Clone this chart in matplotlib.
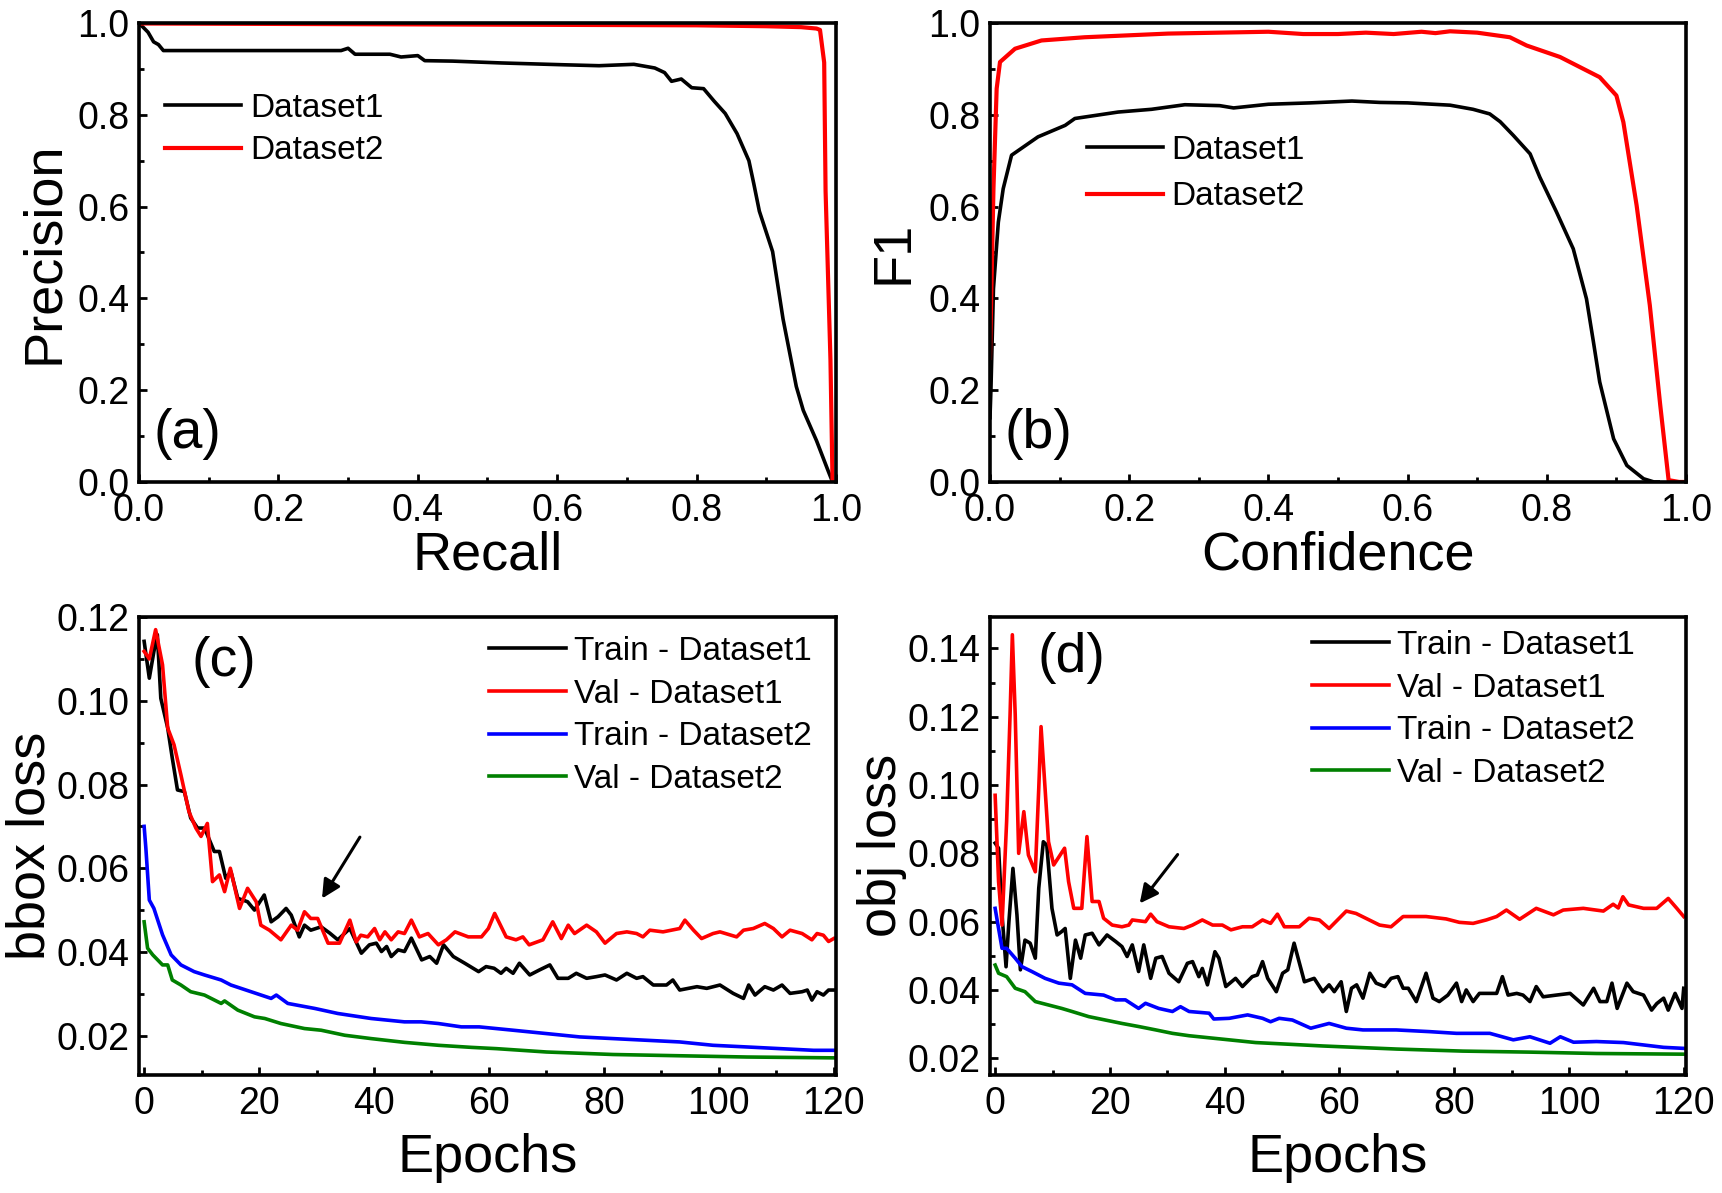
import matplotlib
matplotlib.use("Agg")
import matplotlib.pyplot as plt
from matplotlib.ticker import MultipleLocator

plt.rcParams['font.family'] = ['Liberation Sans', 'DejaVu Sans']

# ---- (a) precision / recall ----
pr_recall_1 = [0.0, 0.013, 0.021, 0.028, 0.035, 0.10, 0.20, 0.29, 0.30, 0.31, 0.36, 0.376, 0.40, 0.41,
               0.45, 0.52, 0.61, 0.66, 0.71, 0.74, 0.754, 0.764, 0.778, 0.793, 0.81, 0.825, 0.841, 0.858,
               0.875, 0.882, 0.89, 0.909, 0.924, 0.943, 0.953, 0.972, 0.989, 0.995]
pr_prec_1 = [1.0, 0.98, 0.959, 0.953, 0.94, 0.94, 0.94, 0.94, 0.945, 0.932, 0.932, 0.926, 0.929, 0.918,
             0.917, 0.913, 0.909, 0.907, 0.910, 0.902, 0.892, 0.873, 0.878, 0.859, 0.857, 0.83, 0.803, 0.759,
             0.70, 0.65, 0.59, 0.502, 0.355, 0.208, 0.156, 0.090, 0.023, 0.0]
pr_recall_2 = [0.0, 0.2, 0.4, 0.6, 0.8, 0.9, 0.95, 0.972, 0.977, 0.983, 0.985, 0.992, 0.995]
pr_prec_2 = [0.999, 0.998, 0.997, 0.996, 0.995, 0.993, 0.991, 0.988, 0.985, 0.914, 0.634, 0.266, 0.0]

# ---- (b) F1 / confidence ----
conf_1 = [0.0, 0.0014, 0.005, 0.012, 0.019, 0.031, 0.069, 0.108, 0.122, 0.184, 0.232, 0.28, 0.33, 0.35,
          0.40, 0.46, 0.52, 0.56, 0.60, 0.661, 0.694, 0.718, 0.733, 0.752, 0.776, 0.79, 0.814, 0.838,
          0.857, 0.867, 0.876, 0.896, 0.915, 0.939, 0.954, 0.96]
f1_1 = [0.14, 0.203, 0.421, 0.566, 0.639, 0.712, 0.752, 0.777, 0.792, 0.806, 0.812, 0.822, 0.820, 0.815,
        0.823, 0.826, 0.830, 0.827, 0.826, 0.821, 0.812, 0.802, 0.785, 0.755, 0.715, 0.664, 0.588, 0.508,
        0.399, 0.305, 0.218, 0.094, 0.036, 0.007, 0.0, 0.0]
conf_2 = [0.0, 0.005, 0.0096, 0.0144, 0.036, 0.074, 0.136, 0.256, 0.40, 0.45, 0.50, 0.54, 0.58, 0.62,
          0.64, 0.661, 0.70, 0.747, 0.771, 0.819, 0.876, 0.90, 0.91, 0.929, 0.948, 0.963, 0.975, 0.99, 1.0]
f1_2 = [0.27, 0.639, 0.857, 0.915, 0.944, 0.962, 0.969, 0.977, 0.981, 0.976, 0.976, 0.979, 0.976, 0.981,
        0.978, 0.982, 0.979, 0.969, 0.951, 0.926, 0.882, 0.842, 0.784, 0.603, 0.385, 0.167, 0.004, 0.0, 0.0]

# ---- (c) bbox loss ----
bbox_train1_ep = [0, 0.9, 1.7, 2.3, 2.9, 4.1, 4.9, 5.8, 7.0, 8.1, 9.3, 10.5, 12.2, 13.1, 14.2, 15.1, 16.3,
                  18.0, 19.2, 20.9, 22.1, 23.3, 24.7, 25.6, 27.0, 27.9, 29.0, 30.8, 32.3, 33.7, 35.8, 37.8,
                  39.2, 40.4, 41.3, 42.2, 43.0, 44.2, 45.3, 46.5, 48.3, 49.7, 50.9, 52.1, 53.8, 55.8, 58.2,
                  59.5, 60.9, 62.1, 63.0, 64.2, 65.3, 67.1, 68.8, 70.6, 72.0, 73.8, 75.2, 77.0, 78.7, 80.2,
                  82.2, 84.0, 85.7, 86.8, 88.6, 90.9, 92.0, 93.2, 96.2, 97.9, 100.2, 102.5, 104.3, 105.2,
                  106.3, 108.0, 109.5, 111.0, 112.4, 114.5, 115.4, 116.2, 117.1, 118.2, 119.1, 120.0]
bbox_train1 = [0.1142, 0.1054, 0.1118, 0.1158, 0.1006, 0.0935, 0.0863, 0.0787, 0.0783, 0.072, 0.0696,
               0.0696, 0.064, 0.064, 0.0576, 0.0592, 0.0528, 0.052, 0.050, 0.0536, 0.0472, 0.0484, 0.0504,
               0.0488, 0.0436, 0.0464, 0.0452, 0.046, 0.0445, 0.0429, 0.0456, 0.0397, 0.0417, 0.0421,
               0.0401, 0.0413, 0.0389, 0.0405, 0.0401, 0.0433, 0.0381, 0.0389, 0.0373, 0.0417, 0.0389,
               0.0373, 0.0353, 0.0365, 0.0361, 0.0349, 0.0361, 0.0349, 0.0373, 0.0345, 0.0357, 0.0369,
               0.0337, 0.0337, 0.0349, 0.0337, 0.0341, 0.0345, 0.0333, 0.0349, 0.0337, 0.0341, 0.0321,
               0.0321, 0.0333, 0.0309, 0.0317, 0.0313, 0.0321, 0.0301, 0.0289, 0.0321, 0.0297, 0.0317,
               0.0309, 0.0321, 0.0301, 0.0305, 0.0309, 0.0285, 0.0305, 0.0297, 0.0309, 0.0309]
bbox_val1_ep = [0, 0.9, 2.0, 3.2, 4.1, 5.2, 6.4, 7.8, 9.0, 9.9, 11.0, 11.9, 13.1, 14.0, 15.0, 16.6, 18.0,
                19.5, 20.3, 21.8, 23.8, 25.6, 26.7, 27.9, 29.0, 30.2, 32.0, 34.0, 35.8, 36.9, 37.7, 38.9,
                40.1, 41.0, 41.9, 43.0, 44.2, 45.3, 46.5, 47.9, 49.4, 51.2, 52.6, 54.1, 56.4, 58.7, 59.9,
                61.0, 63.0, 64.7, 65.9, 67.0, 69.4, 71.1, 72.6, 73.8, 74.9, 77.0, 78.7, 80.2, 82.2, 84.0,
                85.7, 86.8, 88.0, 90.3, 93.2, 94.1, 95.6, 97.0, 99.0, 100.2, 103.1, 104.3, 106.0, 108.0,
                109.5, 111.0, 112.4, 114.5, 116.2, 117.1, 118.2, 119.1, 120.0]
bbox_val1 = [0.1118, 0.110, 0.117, 0.1086, 0.0935, 0.0895, 0.0823, 0.0735, 0.0696, 0.0676, 0.0707,
             0.0568, 0.0584, 0.0544, 0.060, 0.0504, 0.0552, 0.052, 0.0464, 0.0452, 0.0429, 0.0464, 0.0452,
             0.0496, 0.048, 0.048, 0.0421, 0.0421, 0.0476, 0.0424, 0.044, 0.0436, 0.0456, 0.0429, 0.0448,
             0.0429, 0.0448, 0.0444, 0.0476, 0.0436, 0.0444, 0.0417, 0.0429, 0.0448, 0.0436, 0.0436,
             0.0456, 0.0492, 0.0436, 0.0429, 0.0436, 0.0417, 0.0429, 0.0472, 0.0432, 0.0464, 0.0444,
             0.0464, 0.0448, 0.0421, 0.0444, 0.0448, 0.0444, 0.0436, 0.0452, 0.0448, 0.0456, 0.0476,
             0.0452, 0.0432, 0.0444, 0.0448, 0.0436, 0.0452, 0.0456, 0.0468, 0.0456, 0.0436, 0.0452,
             0.0444, 0.0429, 0.0444, 0.044, 0.0425, 0.0432]
bbox_train2_ep = [0, 0.3, 0.9, 1.7, 3.2, 4.7, 6.4, 8.7, 10.5, 13.4, 15.1, 18.6, 22.1, 23.0, 25.0, 29.7,
                  33.7, 39.5, 45.3, 48.2, 51.2, 55.2, 58.3, 64.2, 70.0, 75.8, 81.6, 87.4, 93.2, 99.0, 104.9,
                  110.7, 116.5, 120.0]
bbox_train2 = [0.070, 0.0648, 0.0524, 0.0504, 0.0441, 0.0393, 0.0369, 0.0353, 0.0345, 0.0333, 0.0321,
               0.0305, 0.0289, 0.0297, 0.0277, 0.0265, 0.0253, 0.0241, 0.0233, 0.0233, 0.0229, 0.0221,
               0.0221, 0.0213, 0.0205, 0.0197, 0.0193, 0.0189, 0.0185, 0.0177, 0.0173, 0.0169, 0.0165, 0.0165]
bbox_val2_ep = [0, 0.6, 1.5, 3.2, 4.1, 4.9, 6.4, 8.1, 10.5, 13.4, 14.0, 16.3, 19.2, 21.0, 23.8, 27.9, 30.8,
                34.9, 39.5, 45.3, 51.2, 57.0, 61.3, 70.0, 81.6, 93.2, 104.9, 120.0]
bbox_val2 = [0.0472, 0.0409, 0.0393, 0.0369, 0.0369, 0.0333, 0.0321, 0.0305, 0.0297, 0.0277, 0.0283,
             0.0261, 0.0245, 0.0241, 0.0229, 0.0217, 0.0213, 0.0201, 0.0193, 0.0184, 0.0177, 0.0172,
             0.0169, 0.0161, 0.0155, 0.0152, 0.0149, 0.0147]

# ---- (d) obj loss ----
obj_train1_ep = [0.0, 0.6, 1.2, 1.9, 2.4, 3.1, 3.8, 4.4, 5.2, 6.1, 7.0, 7.6, 8.4, 9.0, 9.9, 10.8, 11.6,
                 12.2, 13.1, 14.0, 14.9, 15.7, 16.9, 18.1, 19.5, 21.0, 22.1, 23.0, 23.9, 25.0, 25.9, 27.1,
                 28.0, 29.1, 30.3, 32.0, 33.5, 34.4, 35.5, 36.1, 37.0, 38.3, 39.0, 40.2, 41.9, 43.1, 44.8,
                 45.7, 46.6, 47.5, 49.0, 50.1, 51.0, 52.1, 53.9, 55.6, 57.1, 58.2, 59.1, 60.3, 61.2, 62.1,
                 63.0, 64.1, 65.3, 66.4, 67.9, 69.0, 70.2, 71.1, 72.0, 73.4, 75.1, 76.3, 77.4, 78.9, 80.4,
                 81.3, 82.1, 83.3, 84.4, 86.2, 87.4, 88.4, 89.4, 90.9, 92.0, 93.2, 94.3, 95.5, 97.8, 100.2,
                 102.5, 104.3, 105.4, 106.6, 107.5, 108.4, 110.1, 111.2, 113.0, 114.4, 115.3, 116.5, 117.3,
                 118.5, 119.7, 120.0]
obj_train1 = [0.083, 0.0815, 0.062, 0.0468, 0.060, 0.0756, 0.062, 0.0459, 0.0546, 0.0537, 0.0493, 0.0698,
              0.0834, 0.0824, 0.0639, 0.0561, 0.0571, 0.058, 0.0434, 0.0546, 0.0493, 0.0561, 0.0566,
              0.0532, 0.0561, 0.0542, 0.0527, 0.0498, 0.0532, 0.0454, 0.0532, 0.0434, 0.0493, 0.0498,
              0.0449, 0.0424, 0.0478, 0.0483, 0.0439, 0.0463, 0.0415, 0.0512, 0.0493, 0.041, 0.0434,
              0.041, 0.0439, 0.0444, 0.0483, 0.0434, 0.0395, 0.0449, 0.0459, 0.0537, 0.0424, 0.0434,
              0.0395, 0.0415, 0.0395, 0.0424, 0.0337, 0.0405, 0.0415, 0.0376, 0.0449, 0.042, 0.041, 0.0434,
              0.0439, 0.0405, 0.0405, 0.0366, 0.0449, 0.0376, 0.0366, 0.0385, 0.042, 0.0366, 0.040, 0.0366,
              0.039, 0.039, 0.039, 0.0439, 0.0385, 0.039, 0.0385, 0.0366, 0.041, 0.038, 0.0385, 0.039,
              0.0356, 0.0405, 0.0366, 0.0366, 0.042, 0.0346, 0.042, 0.0395, 0.0385, 0.0341, 0.036, 0.0376,
              0.0341, 0.039, 0.0346, 0.0405]
obj_val1_ep = [0.0, 0.6, 1.2, 2.0, 2.6, 3.0, 3.5, 4.1, 5.0, 5.8, 7.0, 7.6, 8.0, 8.7, 9.3, 10.2, 12.1, 12.8,
               13.7, 15.1, 16.0, 16.9, 18.1, 18.9, 20.4, 22.1, 23.3, 23.9, 26.2, 27.1, 28.2, 30.3, 32.9,
               34.4, 36.1, 37.9, 39.6, 41.1, 43.1, 44.8, 46.6, 48.0, 49.2, 50.4, 53.0, 54.7, 56.5, 58.2,
               61.2, 62.9, 67.0, 69.0, 71.1, 75.1, 78.6, 80.9, 83.3, 85.6, 87.4, 89.1, 91.4, 94.3, 97.3,
               99.0, 102.5, 106.0, 107.7, 108.6, 109.4, 110.4, 113.0, 115.3, 117.3, 118.8, 120.0]
obj_val1 = [0.097, 0.0717, 0.059, 0.0893, 0.1205, 0.144, 0.1205, 0.080, 0.0922, 0.0795, 0.0746, 0.099,
            0.1171, 0.099, 0.0834, 0.0766, 0.0815, 0.0717, 0.0639, 0.0639, 0.0849, 0.0659, 0.0659, 0.061,
            0.059, 0.0585, 0.059, 0.0605, 0.060, 0.0622, 0.060, 0.0585, 0.058, 0.059, 0.0605, 0.059, 0.059,
            0.0576, 0.0585, 0.0585, 0.0605, 0.0595, 0.0622, 0.0585, 0.0585, 0.061, 0.0605, 0.058, 0.0631,
            0.0624, 0.059, 0.0585, 0.0615, 0.0615, 0.0608, 0.0598, 0.0595, 0.0605, 0.0615, 0.0634,
            0.0607, 0.0639, 0.062, 0.0634, 0.0639, 0.0631, 0.0651, 0.064, 0.0673, 0.0649, 0.0639,
            0.0639, 0.0668, 0.0639, 0.0615]
obj_train2_ep = [0.0, 0.6, 1.2, 2.0, 3.5, 4.7, 6.4, 8.7, 11.1, 13.4, 15.7, 18.9, 21.0, 22.7, 25.0, 26.2,
                 28.5, 30.9, 32.3, 33.8, 37.3, 38.1, 40.8, 44.0, 46.6, 48.0, 49.5, 51.8, 55.0, 58.2, 61.2,
                 64.1, 69.9, 75.7, 80.4, 86.2, 90.3, 93.2, 96.7, 98.5, 100.8, 104.8, 109.5, 116.5, 120.0]
obj_train2 = [0.0639, 0.058, 0.0522, 0.0522, 0.0493, 0.0468, 0.0454, 0.0434, 0.042, 0.0415, 0.039,
              0.0385, 0.0371, 0.0371, 0.0346, 0.0361, 0.0346, 0.0337, 0.0351, 0.0337, 0.0332, 0.0315,
              0.0317, 0.0327, 0.0317, 0.0307, 0.0317, 0.0312, 0.0288, 0.0302, 0.0288, 0.0283, 0.0283,
              0.0278, 0.0273, 0.0273, 0.0254, 0.0263, 0.0244, 0.0263, 0.0247, 0.0249, 0.0246, 0.0232, 0.0229]
obj_val2_ep = [0.0, 0.6, 2.0, 3.5, 5.2, 7.0, 9.3, 11.6, 13.4, 16.3, 19.2, 22.1, 25.0, 28.0, 30.9, 33.8,
               39.6, 45.4, 51.3, 57.1, 70.0, 81.5, 93.2, 104.8, 120.0]
obj_val2 = [0.0473, 0.0449, 0.0439, 0.0405, 0.0395, 0.0366, 0.0356, 0.0346, 0.0337, 0.0322, 0.0312,
            0.0302, 0.0293, 0.0283, 0.0273, 0.0266, 0.0256, 0.0246, 0.0241, 0.0236, 0.0227, 0.0221,
            0.0218, 0.0214, 0.0212]

TICK_FS = 27
LABEL_FS = 39
LEG_FS = 24
LW = 2.6


def style_axes(ax, xmaj, xmin, ymaj, ymin):
    for sp in ax.spines.values():
        sp.set_linewidth(2.6)
    ax.xaxis.set_major_locator(MultipleLocator(xmaj))
    ax.xaxis.set_minor_locator(MultipleLocator(xmin))
    ax.yaxis.set_major_locator(MultipleLocator(ymaj))
    ax.yaxis.set_minor_locator(MultipleLocator(ymin))
    ax.tick_params(which='both', direction='in', top=False, right=False, labelsize=TICK_FS)
    ax.tick_params(which='major', length=6, width=2)
    ax.tick_params(which='minor', length=3.5, width=2)
    ax.tick_params(axis='x', pad=8)
    ax.tick_params(axis='y', pad=7)


def set_labels(ax, xl, yl, xpos, ypos):
    ax.set_xlabel(xl, fontsize=LABEL_FS)
    ax.set_ylabel(yl, fontsize=LABEL_FS)
    ax.xaxis.set_label_coords(0.5, xpos)
    ax.yaxis.set_label_coords(ypos, 0.5)
    ax.xaxis.label.set_va('top')
    ax.yaxis.label.set_va('center')


def add_legend(ax, x, y, spacing=0.35):
    ax.legend(loc='upper left', bbox_to_anchor=(x, y), frameon=False, fontsize=LEG_FS,
              handlelength=2.3, handletextpad=0.25, labelspacing=spacing, borderpad=0, borderaxespad=0)


fig = plt.figure(figsize=(17.22, 11.93), dpi=100)
ax_a = fig.add_axes([0.0807, 0.596, 0.4048, 0.3847])
ax_b = fig.add_axes([0.5749, 0.596, 0.4042, 0.3847])
ax_c = fig.add_axes([0.0807, 0.0989, 0.4048, 0.3842])
ax_d = fig.add_axes([0.5749, 0.0989, 0.4042, 0.3842])

# (a)
ax_a.plot(pr_recall_1, pr_prec_1, color='black', lw=LW, label='Dataset1')
ax_a.plot(pr_recall_2, pr_prec_2, color='red', lw=LW + 0.4, label='Dataset2')
ax_a.set_xlim(0, 1)
ax_a.set_ylim(0, 1)
style_axes(ax_a, 0.2, 0.1, 0.2, 0.1)
set_labels(ax_a, 'Recall', 'Precision', -0.105, -0.136)
add_legend(ax_a, 0.037, 0.848)
ax_a.text(0.021, 0.105, '(a)', transform=ax_a.transAxes, fontsize=40, ha='left', va='center')

# (b)
ax_b.plot(conf_1, f1_1, color='black', lw=LW, label='Dataset1')
ax_b.plot(conf_2, f1_2, color='red', lw=LW + 0.4, label='Dataset2')
ax_b.set_xlim(0, 1)
ax_b.set_ylim(0, 1)
style_axes(ax_b, 0.2, 0.1, 0.2, 0.1)
set_labels(ax_b, 'Confidence', 'F1', -0.105, -0.138)
add_legend(ax_b, 0.139, 0.757, spacing=0.47)
ax_b.text(0.021, 0.105, '(b)', transform=ax_b.transAxes, fontsize=40, ha='left', va='center')

# (c)
ax_c.plot(bbox_train1_ep, bbox_train1, color='black', lw=LW, label='Train - Dataset1')
ax_c.plot(bbox_val1_ep, bbox_val1, color='red', lw=LW, label='Val - Dataset1')
ax_c.plot(bbox_train2_ep, bbox_train2, color='blue', lw=LW, label='Train - Dataset2')
ax_c.plot(bbox_val2_ep, bbox_val2, color='green', lw=LW, label='Val - Dataset2')
ax_c.set_xlim(-0.9, 120.4)
ax_c.set_ylim(0.0106, 0.1201)
style_axes(ax_c, 20, 10, 0.02, 0.01)
set_labels(ax_c, 'Epochs', 'bbox loss', -0.126, -0.155)
add_legend(ax_c, 0.502, 0.958)
ax_c.text(0.076, 0.902, '(c)', transform=ax_c.transAxes, fontsize=40, ha='left', va='center')
ax_c.annotate('', xy=(30.7, 0.0522), xytext=(37.8, 0.068),
              arrowprops=dict(arrowstyle='-|>', color='black', lw=2.2, mutation_scale=28))

# (d)
ax_d.plot(obj_train1_ep, obj_train1, color='black', lw=LW, label='Train - Dataset1')
ax_d.plot(obj_val1_ep, obj_val1, color='red', lw=LW, label='Val - Dataset1')
ax_d.plot(obj_train2_ep, obj_train2, color='blue', lw=LW, label='Train - Dataset2')
ax_d.plot(obj_val2_ep, obj_val2, color='green', lw=LW, label='Val - Dataset2')
ax_d.set_xlim(-0.9, 120.4)
ax_d.set_ylim(0.0151, 0.1493)
style_axes(ax_d, 20, 10, 0.02, 0.01)
set_labels(ax_d, 'Epochs', 'obj loss', -0.126, -0.155)
add_legend(ax_d, 0.463, 0.971)
ax_d.text(0.068, 0.909, '(d)', transform=ax_d.transAxes, fontsize=40, ha='left', va='center')
ax_d.annotate('', xy=(24.9, 0.0647), xytext=(32.1, 0.0803),
              arrowprops=dict(arrowstyle='-|>', color='black', lw=2.2, mutation_scale=28))

fig.savefig('out.png', dpi=100)
